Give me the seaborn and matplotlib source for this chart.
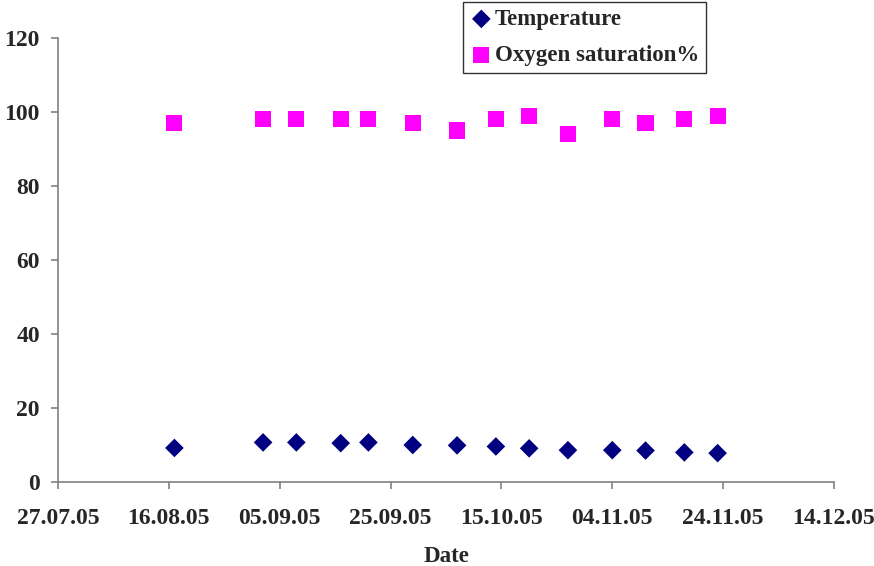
import pandas as pd
import matplotlib
matplotlib.use("Agg")
import matplotlib.pyplot as plt
import matplotlib.dates as mdates
import seaborn as sns

# Values
dates = ["2005-08-17", "2005-09-02", "2005-09-08", "2005-09-16", "2005-09-21",
         "2005-09-29", "2005-10-07", "2005-10-14", "2005-10-20", "2005-10-27",
         "2005-11-04", "2005-11-10", "2005-11-17", "2005-11-23"]
temperature = [9.2, 10.7, 10.7, 10.5, 10.7, 10.0, 9.9, 9.6, 9.1, 8.6, 8.6, 8.5, 8.0, 7.8]
oxygen = [97, 98, 98, 98, 98, 97, 95, 98, 99, 94, 98, 97, 98, 99]

x_ticks = ["2005-07-27", "2005-08-16", "2005-09-05", "2005-09-25", "2005-10-15",
           "2005-11-04", "2005-11-24", "2005-12-14"]
y_ticks = [0, 20, 40, 60, 80, 100, 120]

df = pd.DataFrame({
    "Date": pd.to_datetime(dates * 2),
    "Value": temperature + oxygen,
    "Series": ["Temperature"] * len(dates) + ["Oxygen saturation%"] * len(dates),
})

sns.set_style("white")
plt.rcParams["font.family"] = ["Liberation Serif", "DejaVu Serif"]
plt.rcParams["font.weight"] = "bold"

fig = plt.figure(figsize=(8.74, 5.66), dpi=100)
ax = fig.add_axes([58 / 874, 84 / 566, 776 / 874, 444 / 566])

palette = {"Temperature": "#000080", "Oxygen saturation%": "#FF00FF"}
sns.scatterplot(data=df[df["Series"] == "Temperature"], x="Date", y="Value",
                color=palette["Temperature"], marker="D", s=90,
                edgecolor="none", ax=ax, label="Temperature")
sns.scatterplot(data=df[df["Series"] == "Oxygen saturation%"], x="Date", y="Value",
                color=palette["Oxygen saturation%"], marker="s", s=135,
                edgecolor="none", ax=ax, label="Oxygen saturation%")

tick_dates = pd.to_datetime(x_ticks)
ax.set_xlim(tick_dates[0], tick_dates[-1])
ax.set_ylim(0, 120)
ax.set_xticks(tick_dates)
ax.xaxis.set_major_formatter(mdates.DateFormatter("%d.%m.%y"))
ax.set_yticks(y_ticks)

for side in ["top", "right"]:
    ax.spines[side].set_visible(False)
for side in ["left", "bottom"]:
    ax.spines[side].set_color("#808080")
    ax.spines[side].set_linewidth(1.2)

ax.tick_params(axis="both", direction="out", length=5, width=1.2, color="#808080",
               labelsize=17, bottom=True, left=True)
ax.tick_params(axis="x", pad=14)
ax.tick_params(axis="y", pad=8)
for lbl in ax.get_xticklabels() + ax.get_yticklabels():
    lbl.set_fontweight("bold")

ax.set_xlabel("Date", fontsize=16.5, fontweight="bold", labelpad=12)
ax.set_ylabel("")

leg = ax.legend(loc="upper left", bbox_to_anchor=(463 / 874, 1 - 2 / 566),
                bbox_transform=fig.transFigure, frameon=True, fancybox=False,
                edgecolor="black", handletextpad=0.1, handlelength=1.0,
                borderpad=0.3, labelspacing=0.65, borderaxespad=0,
                prop={"size": 16.5, "weight": "bold"})
leg.get_frame().set_linewidth(1.0)

fig.savefig("out.png", dpi=100)
